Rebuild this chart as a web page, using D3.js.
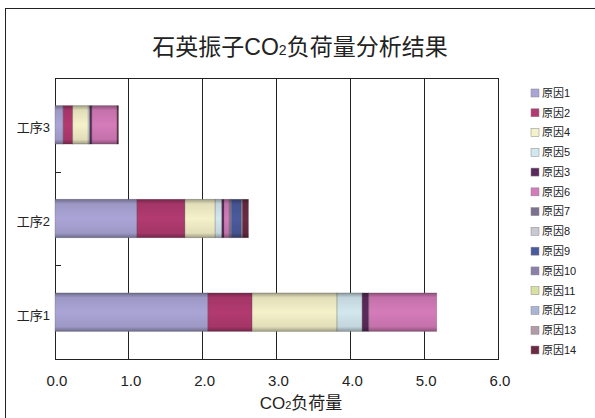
<!DOCTYPE html>
<html lang="zh">
  <head>
    <meta charset="utf-8"/>
    <script src="https://d3js.org/d3.v7.min.js"></script>
    <title>石英振子CO2负荷量分析结果</title>
  </head>
  <body style="margin:0;background:#fff;">
    <div id="chart"></div>
  </body>
</html>

<style>
  text { font-family: "Liberation Sans", "Noto Sans CJK SC", sans-serif; fill: #222; }
</style>

<script>
  const width = 595;
  const height = 418;
  const margin = {top: 78, right: 97, bottom: 59, left: 55};

  // data
  const processes = ["工序3", "工序2", "工序1"];
  const causes = ["原因1", "原因2", "原因4", "原因5", "原因3", "原因6", "原因7",
                  "原因8", "原因9", "原因10", "原因11", "原因12", "原因13", "原因14"];
  const process1 = [2.07, 0.60, 1.15, 0.34, 0.09, 0.92, 0, 0, 0, 0, 0, 0, 0, 0];
  const process2 = [1.11, 0.65, 0.41, 0.09, 0.03, 0.07, 0.03, 0, 0.13, 0.02, 0, 0, 0, 0.08];
  const process3 = [0.11, 0.13, 0.21, 0.02, 0.03, 0.34, 0, 0, 0, 0, 0, 0, 0, 0.02];
  const xTicks = [0, 1, 2, 3, 4, 5, 6];
  const colors = ["#aaa5d6", "#b23a70", "#f5f1c9", "#d3e7ef", "#5b2a5c", "#d57bba", "#7c7290",
                  "#c9c9d2", "#4a5a9c", "#8a80aa", "#d9e0a2", "#a9b5d2", "#b19ba9", "#6b2a42"];

  const rows = processes.map((p) => {
    const vals = p === "工序1" ? process1 : p === "工序2" ? process2 : process3;
    const row = {name: p};
    causes.forEach((c, i) => row[c] = vals[i]);
    return row;
  });

  const svg = d3.select("#chart").append("svg")
    .attr("width", width)
    .attr("height", height);

  // outer frame
  svg.append("rect")
    .attr("x", 5.5).attr("y", 8.5)
    .attr("width", width + 10).attr("height", height + 10)
    .attr("fill", "none").attr("stroke", "#222").attr("stroke-width", 1);

  const defs = svg.append("defs");
  const shade = defs.append("linearGradient")
    .attr("id", "shade").attr("x1", 0).attr("y1", 0).attr("x2", 0).attr("y2", 1);
  [[0, 0.35], [0.12, 0.08], [0.5, 0], [0.88, 0.08], [1, 0.35]].forEach(([o, a]) => {
    shade.append("stop").attr("offset", o).attr("stop-color", "#000").attr("stop-opacity", a);
  });

  const x = d3.scaleLinear()
    .domain([0, 6])
    .range([margin.left, width - margin.right]);

  const y = d3.scaleBand()
    .domain(processes)
    .range([margin.top, height - margin.bottom]);

  const barH = y.bandwidth() * 0.41;

  // gridlines
  svg.append("g")
    .selectAll("line")
    .data(xTicks.slice(1))
    .join("line")
    .attr("x1", (d) => x(d)).attr("x2", (d) => x(d))
    .attr("y1", margin.top).attr("y2", height - margin.bottom)
    .attr("stroke", "#222").attr("stroke-width", 1)
    .attr("shape-rendering", "crispEdges");

  // plot frame
  svg.append("rect")
    .attr("x", x(0)).attr("y", margin.top)
    .attr("width", x(6) - x(0)).attr("height", height - margin.bottom - margin.top)
    .attr("fill", "none").attr("stroke", "#222").attr("stroke-width", 1)
    .attr("shape-rendering", "crispEdges");

  // stacked bars
  const series = d3.stack().keys(causes)(rows);

  svg.append("g")
    .selectAll("g")
    .data(series)
    .join("g")
    .attr("fill", (d, i) => colors[i])
    .selectAll("rect")
    .data((d) => d.filter((v) => v[1] - v[0] > 0))
    .join("rect")
    .attr("x", (d) => x(d[0]))
    .attr("width", (d) => x(d[1]) - x(d[0]))
    .attr("y", (d) => y(d.data.name) + (y.bandwidth() - barH) / 2)
    .attr("height", barH)
    .attr("stroke", "#555")
    .attr("stroke-opacity", 0.35)
    .attr("stroke-width", 0.8);

  // soft edge shading over each bar
  svg.append("g")
    .selectAll("rect")
    .data(rows)
    .join("rect")
    .attr("x", x(0))
    .attr("width", (d) => x(d3.sum(causes, (c) => d[c])) - x(0))
    .attr("y", (d) => y(d.name) + (y.bandwidth() - barH) / 2)
    .attr("height", barH)
    .attr("fill", "url(#shade)");

  // y axis ticks between categories (inside)
  svg.append("g")
    .selectAll("line")
    .data(processes.slice(1))
    .join("line")
    .attr("x1", x(0)).attr("x2", x(0) + 6)
    .attr("y1", (d) => Math.round(y(d)) + 0.5).attr("y2", (d) => Math.round(y(d)) + 0.5)
    .attr("stroke", "#222");

  svg.append("g")
    .selectAll("text")
    .data(processes)
    .join("text")
    .attr("x", x(0) - 5)
    .attr("y", (d) => y(d) + y.bandwidth() / 2 + 3)
    .attr("dy", "0.35em")
    .attr("text-anchor", "end")
    .attr("font-size", 13)
    .text((d) => d);

  // x axis labels
  svg.append("g")
    .selectAll("text")
    .data(xTicks)
    .join("text")
    .attr("x", (d) => x(d) + 2)
    .attr("y", height - margin.bottom + 22)
    .attr("dy", "0.35em")
    .attr("text-anchor", "middle")
    .attr("font-size", 15)
    .text((d) => d3.format(".1f")(d));

  // axis title
  const xt = svg.append("text")
    .attr("x", 301)
    .attr("y", 409)
    .attr("text-anchor", "middle")
    .attr("font-size", 17);
  xt.append("tspan").text("CO");
  xt.append("tspan").attr("font-size", 11).text("2");
  xt.append("tspan").text("负荷量");

  // title
  const title = svg.append("text")
    .attr("x", 300)
    .attr("y", 55)
    .attr("text-anchor", "middle")
    .attr("font-size", 23);
  title.append("tspan").text("石英振子CO");
  title.append("tspan").attr("font-size", 14).text("2");
  title.append("tspan").text("负荷量分析结果");

  // legend
  const legend = svg.append("g")
    .selectAll("g")
    .data(causes)
    .join("g")
    .attr("transform", (d, i) => "translate(" + 531 + "," + (93 + i * 19.77) + ")");

  legend.append("rect")
    .attr("x", 0).attr("y", -4)
    .attr("width", 8).attr("height", 8)
    .attr("fill", (d, i) => colors[i])
    .attr("stroke", "#888").attr("stroke-width", 0.5);

  legend.append("text")
    .attr("x", 11)
    .attr("dy", "0.35em")
    .attr("font-size", 11)
    .text((d) => d);
</script>
